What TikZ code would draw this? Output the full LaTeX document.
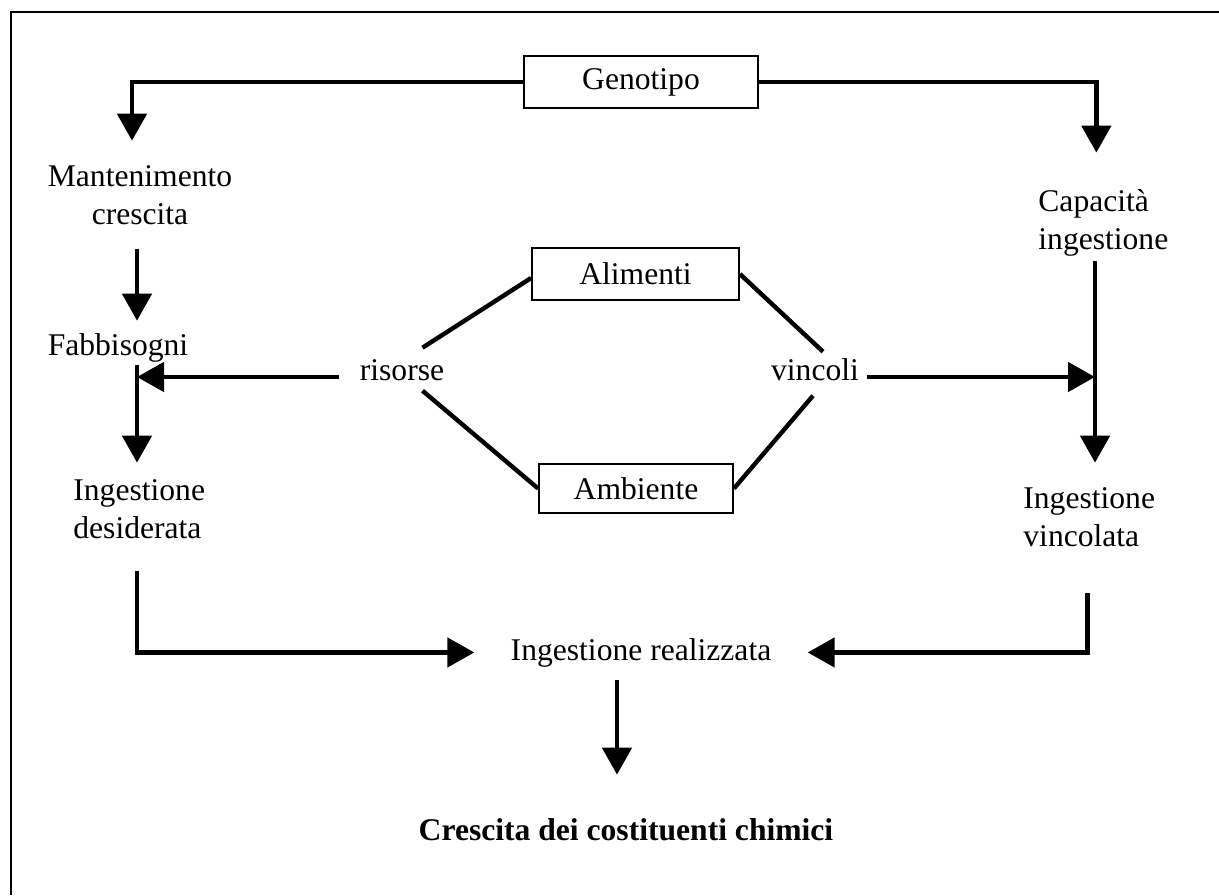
\documentclass[tikz,border=0pt]{standalone}
\usepackage{fontspec}
\setmainfont{Liberation Serif}
\usetikzlibrary{arrows.meta, positioning, calc}
\tikzset{
  % Text styles
  label/.style={inner sep=0pt, font=\fontsize{15.8}{19}\selectfont},
  boxnode/.style={rectangle, draw, line width=0.9pt, inner sep=0pt, font=\fontsize{15.8}{19}\selectfont},
  % Line styles
  arrow/.style={-{Triangle[length=13.5pt, width=14.5pt]}, line width=2.4pt},
  link/.style={line width=2.2pt},
  frame/.style={line width=1pt}
}

\begin{document}
\begin{tikzpicture}[x=0.5pt, y=-0.5pt]
  \useasboundingbox (0,0) rectangle (1219,895);
  \draw[frame] (1219,12) -| (11,895);

  % Boxes
  \node[boxnode, minimum width=117pt, minimum height=26pt] (geno) at (641,82) {Genotipo};
  \node[boxnode, minimum width=103.5pt, minimum height=26pt] (alim) at (635.5,274) {Alimenti};
  \node[boxnode, minimum width=97pt, minimum height=24.5pt] (amb) at (636,488.5) {Ambiente};

  % Left column
  \node[label, align=center, anchor=base] (mant) at (140,224) {Mantenimento\\crescita};
  \node[label, anchor=base] (fab) at (118,355) {Fabbisogni};
  \node[label, align=left, anchor=base west] (desid) at (73,538) {Ingestione\\desiderata};

  % Right column
  \node[label, align=left, anchor=base west] (cap) at (1038,249) {Capacità\\ingestione};
  \node[label, align=left, anchor=base west] (vinc) at (1023,546) {Ingestione\\vincolata};

  % Middle
  \node[label, anchor=base] (ris) at (402,380) {risorse};
  \node[label, anchor=base] (vin) at (815,380) {vincoli};
  \node[label, anchor=base] (real) at (641,660) {Ingestione realizzata};
  \node[label, anchor=base, font=\fontsize{15.8}{19}\selectfont\bfseries] (cres) at (626,840) {Crescita dei costituenti chimici};

  \coordinate (leftx) at (137,0);
  \coordinate (rightx) at (1095,0);

  % Arrows
  \draw[arrow] (geno.west) -| ([xshift=-4pt, yshift=12pt]mant.north);
  \draw[arrow] (geno.east) -| ([xshift=-3.5pt, yshift=18pt]cap.north);
  \draw[arrow, shorten <=12pt, shorten >=6pt] (leftx |- mant.south) -- (leftx |- fab.north);
  \draw[arrow, shorten <=1.5pt, shorten >=8pt] (leftx |- fab.south) -- (leftx |- desid.north);
  \draw[arrow, shorten <=10pt] ([yshift=1.5pt]ris.base west) -- ([yshift=1.5pt]leftx |- ris.base west);
  \draw[arrow, shorten <=2.5pt, shorten >=12pt] (rightx |- cap.south) -- (rightx |- vinc.north);
  \draw[arrow, shorten <=4pt] ([yshift=1.5pt]vin.base east) -- ([yshift=1.5pt]rightx |- vin.base east);
  \draw[arrow, shorten <=16pt, shorten >=18pt] (leftx |- desid.south) |- (real.west);
  \draw[arrow, shorten <=23pt, shorten >=18pt] ([xshift=-1pt]vinc.south) |- (real.east);
  \draw[arrow, shorten <=6.5pt, shorten >=21.5pt] ([xshift=-12pt]real.south) -- ([xshift=-12pt]real.south |- cres.north);

  % Links
  \draw[link] ([xshift=-11pt, yshift=5.5pt]ris.north east) -- ([yshift=-2pt]alim.west);
  \draw[link] ([xshift=-11pt, yshift=-5pt]ris.south east) -- (amb.west);
  \draw[link] (alim.east) -- ([xshift=4pt, yshift=3pt]vin.north);
  \draw[link] (amb.east) -- ([xshift=-1pt, yshift=-7.5pt]vin.south);
\end{tikzpicture}
\end{document}
